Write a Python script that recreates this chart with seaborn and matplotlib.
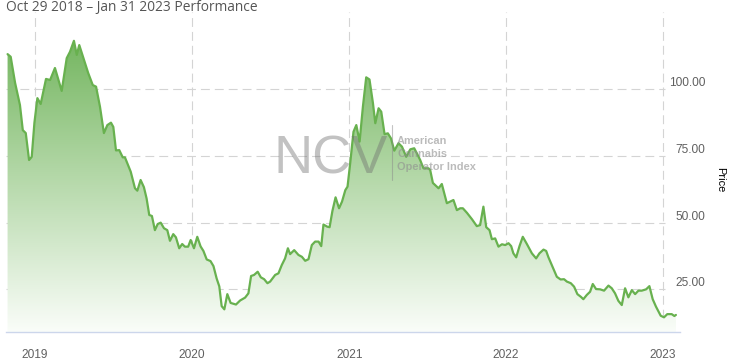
import numpy as np
import pandas as pd
import matplotlib
matplotlib.use("Agg")
import matplotlib.pyplot as plt
import matplotlib.dates as mdates
from matplotlib.colors import LinearSegmentedColormap
from matplotlib.lines import Line2D
from matplotlib.transforms import ScaledTranslation
import seaborn as sns

# ---------------- data (decimal year, index price) ----------------
year_frac = [
    2018.825, 2018.845, 2018.873, 2018.904, 2018.922, 2018.941, 2018.962, 2018.979, 2018.996, 2019.015,
    2019.036, 2019.070, 2019.096, 2019.127, 2019.170, 2019.202, 2019.223, 2019.248, 2019.266, 2019.282,
    2019.339, 2019.368, 2019.389, 2019.414, 2019.439, 2019.461, 2019.484, 2019.499, 2019.516, 2019.537,
    2019.559, 2019.573, 2019.610, 2019.637, 2019.652, 2019.673, 2019.694, 2019.711, 2019.728, 2019.745,
    2019.764, 2019.782, 2019.801, 2019.822, 2019.843, 2019.860, 2019.881, 2019.898, 2019.919, 2019.938,
    2019.955, 2019.976, 2019.992, 2020.013, 2020.034, 2020.055, 2020.073, 2020.094, 2020.118, 2020.137,
    2020.157, 2020.174, 2020.189, 2020.206, 2020.225, 2020.246, 2020.280, 2020.306, 2020.338, 2020.359,
    2020.376, 2020.395, 2020.418, 2020.438, 2020.459, 2020.480, 2020.497, 2020.529, 2020.550, 2020.571,
    2020.592, 2020.610, 2020.624, 2020.650, 2020.677, 2020.699, 2020.720, 2020.741, 2020.762, 2020.783,
    2020.805, 2020.822, 2020.836, 2020.860, 2020.875, 2020.893, 2020.913, 2020.935, 2020.954, 2020.975,
    2020.989, 2021.006, 2021.027, 2021.045, 2021.066, 2021.087, 2021.108, 2021.129, 2021.151, 2021.166,
    2021.187, 2021.204, 2021.225, 2021.246, 2021.266, 2021.287, 2021.314, 2021.336, 2021.363, 2021.389,
    2021.414, 2021.431, 2021.452, 2021.473, 2021.505, 2021.516, 2021.533, 2021.569, 2021.590, 2021.622,
    2021.643, 2021.664, 2021.686, 2021.707, 2021.724, 2021.750, 2021.782, 2021.813, 2021.834, 2021.855,
    2021.873, 2021.894, 2021.909, 2021.930, 2021.951, 2021.973, 2021.994, 2022.015, 2022.032, 2022.046,
    2022.064, 2022.085, 2022.106, 2022.132, 2022.164, 2022.191, 2022.212, 2022.238, 2022.255, 2022.269,
    2022.291, 2022.323, 2022.347, 2022.369, 2022.387, 2022.412, 2022.433, 2022.454, 2022.476,
    2022.492, 2022.514, 2022.535, 2022.552, 2022.573, 2022.599, 2022.624, 2022.652, 2022.673, 2022.694,
    2022.715, 2022.737, 2022.758, 2022.779, 2022.801, 2022.822, 2022.843, 2022.864, 2022.892, 2022.913,
    2022.934, 2022.955, 2022.985, 2023.006, 2023.027, 2023.055, 2023.072, 2023.082,
]
price = [
    113.2, 112.2, 102.4, 94.1, 84.7, 83.6, 73.5, 74.7, 87.4, 96.7,
    94.5, 103.9, 103.5, 108.0, 99.4, 111.7, 114.1, 118.2, 112.9, 116.6,
    106.1, 101.6, 101.0, 93.5, 83.6, 86.6, 87.5, 85.9, 77.1, 77.2,
    74.5, 74.5, 69.1, 62.9, 62.0, 66.0, 63.3, 59.1, 52.9, 52.5,
    47.2, 49.5, 50.0, 47.9, 47.2, 43.2, 45.7, 44.5, 40.4, 42.0,
    41.0, 41.0, 43.5, 40.4, 44.7, 41.1, 39.4, 36.2, 35.6, 33.7,
    29.1, 26.1, 18.7, 17.5, 23.2, 19.9, 19.3, 20.8, 21.9, 23.5,
    30.0, 30.4, 31.6, 29.5, 28.8, 27.3, 27.9, 30.4, 31.0, 34.1,
    36.6, 40.4, 38.2, 39.7, 37.9, 37.2, 35.7, 36.3, 41.6, 42.9,
    42.9, 41.2, 49.3, 48.5, 48.3, 54.4, 59.5, 55.4, 57.9, 62.2,
    63.5, 72.3, 84.1, 86.6, 80.4, 93.5, 104.5, 103.7, 94.8, 87.3,
    92.9, 91.6, 83.2, 83.5, 81.6, 77.0, 79.8, 78.5, 74.7, 77.5,
    77.9, 76.0, 73.5, 70.4, 70.4, 69.7, 64.9, 62.9, 64.5, 57.3,
    57.9, 58.5, 54.7, 55.4, 55.4, 53.7, 51.3, 48.7, 49.1, 56.0,
    48.3, 47.2, 43.8, 44.1, 41.0, 41.9, 41.6, 42.3, 41.2, 38.5,
    37.0, 41.2, 44.7, 42.0, 38.5, 36.6, 38.5, 39.9, 39.4, 37.1,
    34.1, 29.7, 28.7, 28.8, 27.9, 27.3, 26.0, 23.2, 22.2,
    21.3, 22.9, 24.1, 27.0, 25.1, 25.0, 24.5, 26.4, 25.4, 23.5,
    20.7, 19.1, 25.4, 22.0, 24.7, 23.2, 24.5, 24.5, 25.0, 26.2,
    21.3, 18.5, 15.1, 14.5, 15.7, 15.7, 15.0, 15.4,
]
year_ticks = [2019, 2020, 2021, 2022, 2023]
price_ticks = [25, 50, 75, 100]
price_labels = ["25.00", "50.00", "75.00", "100.00"]
x_range = [2018.815, 2023.108]
y_range = [9.0, 129.0]
title = "Oct 29 2018 \u2013 Jan 31 2023 Performance"


def to_date(t):
    y = int(np.floor(t))
    start = pd.Timestamp(year=y, month=1, day=1)
    end = pd.Timestamp(year=y + 1, month=1, day=1)
    return start + (t - y) * (end - start)


df = pd.DataFrame({"date": [to_date(t) for t in year_frac], "price": price})

# ---------------- figure ----------------
W, H = 733, 364
fig = plt.figure(figsize=(W / 100, H / 100), dpi=100)
sns.set_style("white")
plt.rcParams["font.family"] = ["Liberation Sans", "DejaVu Sans"]

L, R, T, B = 6, 680, 12, 332
ax = fig.add_axes([L / W, 1 - B / H, (R - L) / W, (B - T) / H])
ax.set_facecolor("white")

line_color = "#68b14f"

# gradient area under the curve
poly = ax.fill_between(df["date"], df["price"], y_range[0], color="none", lw=0)
x0n = mdates.date2num(to_date(x_range[0]))
x1n = mdates.date2num(to_date(x_range[1]))
cmap = LinearSegmentedColormap.from_list(
    "g", [(104 / 255, 175 / 255, 82 / 255), (178 / 255, 215 / 255, 166 / 255), (250 / 255, 253 / 255, 249 / 255)]
)
grad = np.linspace(0, 1, 256).reshape(-1, 1)
im = ax.imshow(grad, aspect="auto", cmap=cmap, extent=[x0n, x1n, y_range[0], y_range[1]],
               origin="upper", zorder=1, interpolation="bilinear")
im.set_clip_path(poly.get_paths()[0], transform=ax.transData)

sns.lineplot(data=df, x="date", y="price", ax=ax, color=line_color, lw=1.6, zorder=4)

ax.set_xlim(to_date(x_range[0]), to_date(x_range[1]))
ax.set_ylim(*y_range)

# grid lines
grid_kw = dict(color="#d4d4d4", lw=0.8, linestyle=(0, (8, 4.5)), zorder=0.5)
for yv in price_ticks:
    ax.axhline(yv, xmin=0, xmax=(665 - L) / (R - L), **grid_kw)
for yr in year_ticks:
    ax.axvline(to_date(yr), **grid_kw)

# spines
for s in ["top", "left", "right"]:
    ax.spines[s].set_visible(False)
ax.spines["bottom"].set_color("#ccd6eb")
ax.spines["bottom"].set_linewidth(1.0)
ax.spines["bottom"].set_zorder(5)

# x ticks
ax.set_xticks([to_date(y) for y in year_ticks])
ax.set_xticklabels([str(y) for y in year_ticks])
ax.tick_params(axis="x", length=7, width=0.8, color="#d0d0d0", pad=5,
               labelsize=8.6, labelcolor="#606060", direction="out")

# y ticks on the right
ax.yaxis.tick_right()
ax.set_yticks(price_ticks)
ax.set_yticklabels(price_labels)
ax.tick_params(axis="y", length=0, pad=18, labelsize=8.6, labelcolor="#606060")
for lab in ax.get_yticklabels():
    lab.set_horizontalalignment("right")
    lab.set_verticalalignment("baseline")
    lab.set_transform(lab.get_transform() + ScaledTranslation(0, 3 / 100, fig.dpi_scale_trans))

ax.set_xlabel("")
ax.set_ylabel("")

# "Price" axis title
fig.text(720 / W, 1 - 180 / H, "Price", rotation=270, ha="center", va="center",
         fontsize=7.9, color="#000000")

# title
fig.text(6 / W, 1 - 11 / H, title, ha="left", va="baseline", fontsize=9.9,
         color="#555555", family=["Open Sans", "DejaVu Sans"])

# watermark
fig.text(274 / W, 1 - 173 / H, "NCV", ha="left", va="baseline", fontsize=39,
         color="#6e6e6e", alpha=0.42, family=["Liberation Sans", "DejaVu Sans"], zorder=3)
fig.add_artist(Line2D([392 / W, 392 / W], [1 - 125 / H, 1 - 180 / H], transform=fig.transFigure,
                      color="#8a8a8a", alpha=0.5, lw=0.8))
for i, txt in enumerate(["American", "Cannabis", "Operator Index"]):
    fig.text(397 / W, 1 - (144 + 13 * i) / H, txt, ha="left", va="baseline", fontsize=7.9,
             weight="bold", color="#8f8f8f", alpha=0.6)

fig.savefig("out.png", dpi=100, facecolor="white")
